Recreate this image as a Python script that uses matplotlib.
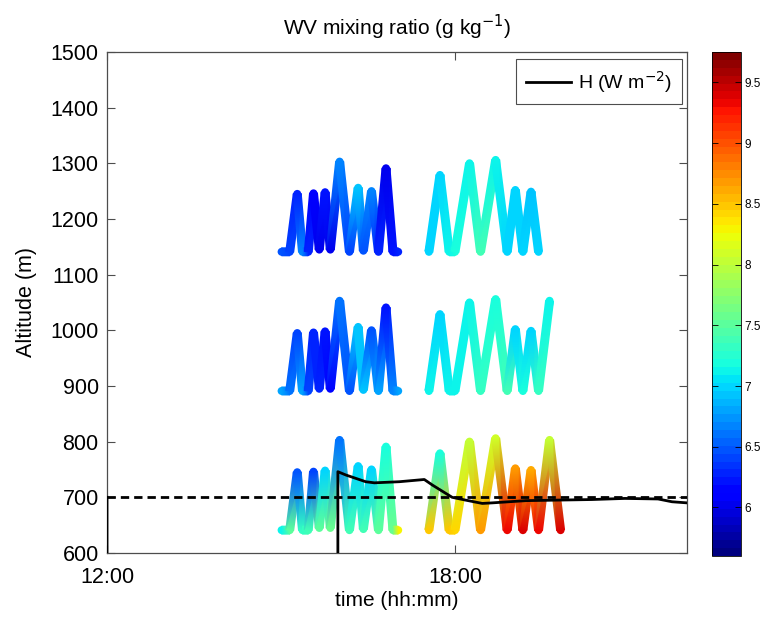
import numpy as np
import matplotlib
matplotlib.use('Agg')
import matplotlib.pyplot as plt
from matplotlib.colors import Normalize
from matplotlib.cm import ScalarMappable

plt.rcParams['font.family'] = ['Liberation Sans', 'DejaVu Sans']

# turning points of the two flights (decimal hours, altitude of the lowest track in m)
leg1_time = [15.01, 15.15, 15.28, 15.37, 15.47, 15.56, 15.66, 15.76, 15.85, 16.01,
             16.18, 16.33, 16.42, 16.56, 16.68, 16.81, 16.93, 17.02]
leg1_alt = [641, 641, 745, 641, 641, 746, 645, 748, 645, 803,
            641, 756, 643, 750, 641, 791, 641, 641]
leg2_time = [17.55, 17.74, 17.90, 18.00, 18.25, 18.44, 18.70, 18.90, 19.04, 19.17,
             19.31, 19.44, 19.63, 19.82]
leg2_alt = [641, 779, 641, 641, 800, 641, 806, 641, 752, 641,
            749, 641, 803, 641]

# the three tracks are stacked with an altitude offset
track_offset = [0, 250, 500]
leg2_count = [14, 13, 12]  # points of flight 2 shown in each track

# WV mixing ratio (g/kg) at each turning point, bottom / middle / top track
wv_leg1 = [
    [7.1, 7.5, 6.5, 7.3, 7.4, 6.4, 7.5, 7.0, 7.6, 6.6, 7.4, 7.0, 7.4, 7.0, 7.5, 7.2, 7.6, 8.3],
    [6.8, 6.6, 6.4, 6.8, 6.4, 6.3, 6.25, 6.2, 6.15, 6.6, 6.5, 6.9, 6.9, 6.5, 6.8, 6.2, 6.7, 6.8],
    [6.5, 6.4, 6.3, 6.7, 6.3, 6.1, 6.0, 6.2, 6.0, 6.7, 6.4, 6.9, 6.5, 6.7, 6.3, 6.05, 6.2, 6.3],
]
wv_leg2 = [
    [8.5, 7.2, 8.5, 8.4, 8.0, 8.7, 8.1, 9.3, 8.7, 9.4, 8.6, 9.3, 8.0, 9.4],
    [7.1, 7.0, 7.1, 7.1, 7.1, 7.3, 7.2, 7.4, 7.0, 7.2, 7.0, 7.3, 7.1],
    [7.0, 7.0, 7.1, 7.2, 7.1, 7.4, 7.1, 7.0, 7.0, 7.0, 6.9, 7.0],
]

# sensible heat flux curve (plotted on the altitude axis, 700 = zero line)
H_time = [12.0, 12.0, np.nan, 15.98, 15.98, 16.12, 16.46, 16.61, 17.04, 17.47, 17.61,
          17.95, 18.18, 18.47, 18.64, 19.22, 19.79, 20.36, 20.93, 21.50, 21.74, 22.0]
H_level = [560, 700, np.nan, 560, 746, 740, 728, 726, 728, 732, 722,
           700, 695, 689, 690, 694, 695, 696, 698, 697, 692, 690]
zero_line = 700

cbar_ticks = [6, 6.5, 7, 7.5, 8, 8.5, 9, 9.5]
cmap = plt.get_cmap('jet', 64)
norm = Normalize(vmin=5.6, vmax=9.75)


def draw_track(ax, t, z, c, width_px=8.0):
    # thick ribbon with colour shaded along the track
    xy = ax.transData.transform(np.column_stack([t, z]))
    verts, vals, tris = [], [], []
    for i in range(len(xy) - 1):
        d = xy[i + 1] - xy[i]
        nrm = np.array([-d[1], d[0]]) / np.hypot(d[0], d[1]) * width_px / 2
        k = len(verts)
        verts += [xy[i] + nrm, xy[i] - nrm, xy[i + 1] - nrm, xy[i + 1] + nrm]
        vals += [c[i], c[i], c[i + 1], c[i + 1]]
        tris += [[k, k + 1, k + 2], [k, k + 2, k + 3]]
    data = ax.transData.inverted().transform(np.array(verts))
    ax.scatter(t, z, c=c, s=(width_px * 0.72) ** 2, cmap=cmap, norm=norm,
               linewidths=0, zorder=1.9)
    ax.tripcolor(data[:, 0], data[:, 1], np.array(tris), np.array(vals),
                 shading='gouraud', cmap=cmap, norm=norm, zorder=2)


fig = plt.figure(figsize=(7.71, 6.23), dpi=100)
ax = fig.add_axes([0.1388, 0.1124, 0.7523, 0.8042])
ax.set_xlim(12, 22)
ax.set_ylim(600, 1500)

for g, off in enumerate(track_offset):
    z1 = np.array(leg1_alt) + off
    draw_track(ax, leg1_time, z1, wv_leg1[g])
    n = leg2_count[g]
    z2 = np.array(leg2_alt[:n]) + off
    draw_track(ax, leg2_time[:n], z2, wv_leg2[g])

ax.axhline(zero_line, color='k', lw=2, ls='--', dashes=(3, 1.8), zorder=3)
ax.plot(H_time, H_level, color='k', lw=2, label='H (W m$^{-2}$)', zorder=4)

ax.set_xticks([12, 18])
ax.set_xticklabels(['12:00', '18:00'])
ax.set_yticks(np.arange(600, 1501, 100))
ax.tick_params(direction='in', top=True, right=True, length=6, width=0.8,
               labelsize=15.5, color='0.3')
ax.tick_params(axis='x', pad=10)
ax.tick_params(axis='y', pad=6)
for s in ax.spines.values():
    s.set_color('0.3')
    s.set_linewidth(0.9)

ax.set_xlabel('time (hh:mm)', fontsize=15, labelpad=2)
ax.set_ylabel('Altitude (m)', fontsize=15.5, labelpad=10)
ax.set_title('WV mixing ratio (g kg$^{-1}$)', fontsize=15, pad=12)

leg = ax.legend(loc='upper right', bbox_to_anchor=(0.992, 0.986), fontsize=14,
                fancybox=False, framealpha=1, edgecolor='0.3', handlelength=2.3,
                borderpad=0.5, handletextpad=0.4, borderaxespad=0)
leg.get_frame().set_linewidth(0.8)

cax = fig.add_axes([0.923, 0.1075, 0.0376, 0.809])
cb = fig.colorbar(ScalarMappable(norm=norm, cmap=cmap), cax=cax, ticks=cbar_ticks,
                  format='%g')
cb.outline.set_linewidth(0.6)
cax.tick_params(direction='in', left=True, right=True, length=4, width=0.6,
                labelsize=8.5, pad=3)

fig.savefig('out.png', dpi=100)
